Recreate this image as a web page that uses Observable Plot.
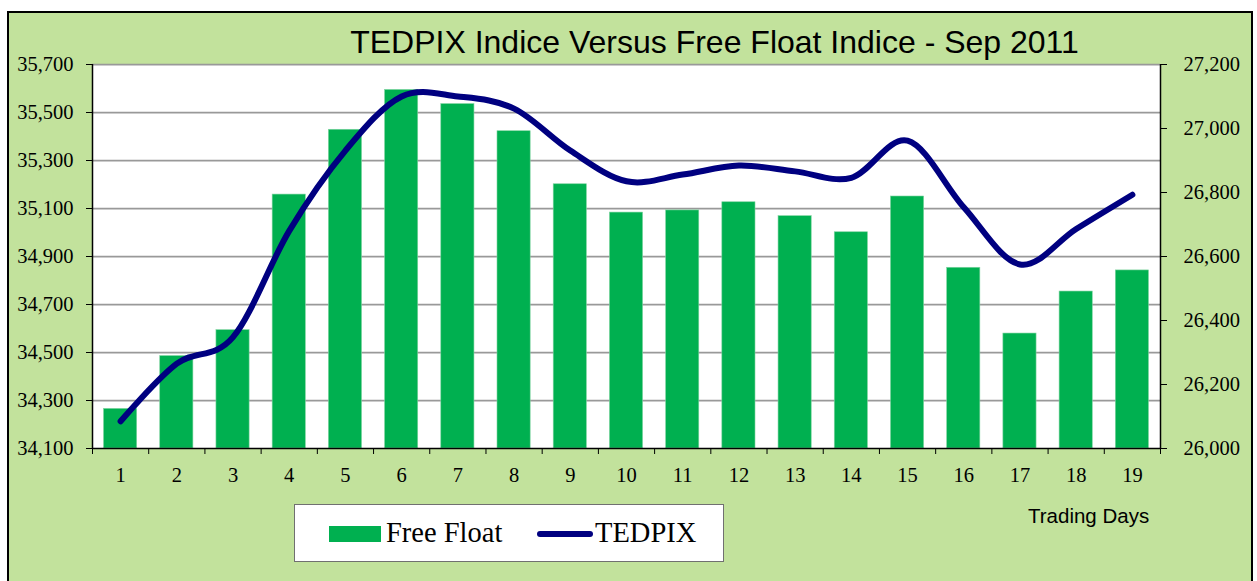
<!DOCTYPE html>
<html>
<head>
<meta charset="utf-8">
<script src="https://cdn.jsdelivr.net/npm/d3@7"></script>
<script src="https://cdn.jsdelivr.net/npm/@observablehq/plot@0.6"></script>
<style>
  html, body { margin: 0; padding: 0; background: #ffffff; }
  #wrap { position: relative; width: 1257px; height: 581px; overflow: hidden; }
  #frame { position: absolute; left: 7px; top: 11px; width: 1242px; height: 600px;
           border-left: 2px solid #000; border-top: 2px solid #000; border-right: 2px solid #000;
           background: #c2e29c; }
  #title { position: absolute; left: 0; width: 1257px; top: 26px; text-align: center;
           padding-left: 172px; box-sizing: border-box;
           font-family: "Liberation Sans", Arial, sans-serif; font-size: 32px; line-height: 33px; color: #000; }
  #chart { position: absolute; left: 0; top: 58px; }
  #chart svg { overflow: visible; }
  #legend { position: absolute; left: 294px; top: 504px; width: 428px; height: 56px;
            background: #fff; border: 1px solid #707070; }
  .lg-item { position: absolute; top: 0; height: 56px; font-family: "Liberation Serif", "Times New Roman", serif;
             font-size: 28.5px; line-height: 56px; color: #000; white-space: nowrap; }
  #sw-bar { position: absolute; left: 34px; top: 21px; width: 52px; height: 16px; background: #00b050; }
  #sw-line { position: absolute; left: 242px; top: 26px; width: 56px; height: 6px; border-radius: 3px; background: #000080; }
  #xlabel { position: absolute; left: 1028px; top: 504px; font-family: "Liberation Sans", Arial, sans-serif;
            font-size: 20.5px; line-height: 24px; color: #000; white-space: nowrap; }
</style>
</head>
<body>
<div id="wrap">
  <div id="frame"></div>
  <div id="title">TEDPIX Indice Versus Free Float Indice - Sep 2011</div>
  <div id="chart"></div>
  <div id="legend">
    <div id="sw-bar"></div>
    <div class="lg-item" style="left:91px">Free Float</div>
    <div id="sw-line"></div>
    <div class="lg-item" style="left:300px">TEDPIX</div>
  </div>
  <div id="xlabel">Trading Days</div>
</div>
<script>
// ---- data ----
const days = [1, 2, 3, 4, 5, 6, 7, 8, 9, 10, 11, 12, 13, 14, 15, 16, 17, 18, 19];
const freeFloat = [34265, 34485, 34593, 35158, 35428, 35594, 35535, 35422, 35201, 35083,
                   35092, 35126, 35068, 35001, 35150, 34853, 34579, 34754, 34842];
const tedpix = [26085, 26265, 26348, 26680, 26931, 27100, 27100, 27062, 26931, 26835,
                26856, 26884, 26866, 26846, 26962, 26754, 26575, 26686, 26793];
const leftTicks = [34100, 34300, 34500, 34700, 34900, 35100, 35300, 35500, 35700];
const rightTicks = [26000, 26200, 26400, 26600, 26800, 27000, 27200];
const seriesNames = ["Free Float", "TEDPIX"];

// ---- mapping of the right-axis domain onto the left y scale ----
const L0 = leftTicks[0], L1 = leftTicks[leftTicks.length - 1];
const R0 = rightTicks[0], R1 = rightTicks[rightTicks.length - 1];
const toLeft = v => L0 + (v - R0) * (L1 - L0) / (R1 - R0);
const fromLeft = v => R0 + (v - L0) * (R1 - R0) / (L1 - L0);

const rows = days.map((d, i) => ({day: d, ff: freeFloat[i], ted: tedpix[i], tedL: toLeft(tedpix[i])}));
const half = 0.295; // half bar width in category units
const boundaries = [0, ...days].map(d => d + 0.5);
const fmt = d3.format(",");

const chart = Plot.plot({
  width: 1257,
  height: 442,
  marginLeft: 92,
  marginRight: 97,
  marginTop: 6,
  marginBottom: 52,
  style: {background: "transparent", fontFamily: "'Liberation Serif', 'Times New Roman', serif", fontSize: "20.5px", color: "#000", overflow: "visible"},
  x: {type: "linear", domain: [0.5, days.length + 0.5]},
  y: {domain: [L0, L1]},
  marks: [
    Plot.frame({fill: "white", stroke: null}),
    Plot.ruleY(leftTicks.slice(1), {stroke: "#999999", strokeWidth: 1.75}),
    Plot.rectY(rows, {x1: d => d.day - half, x2: d => d.day + half, y1: L0, y2: "ff", fill: "#00b050", stroke: "#7fd4a0", strokeWidth: 0.6}),
    Plot.ruleX([0.5, days.length + 0.5], {stroke: "#000", strokeWidth: 1.5}),
    Plot.ruleY([L0], {stroke: "#000", strokeWidth: 1.5}),
    Plot.line(rows, {x: "day", y: "tedL", stroke: "#000080", strokeWidth: 6, curve: "cardinal", strokeLinecap: "round", strokeLinejoin: "round"}),
    Plot.axisY(leftTicks, {anchor: "left", tickSize: 6, tickPadding: 13, tickFormat: fmt, label: null}),
    Plot.axisY(rightTicks.map(toLeft), {anchor: "right", tickSize: 6, tickPadding: 17, tickFormat: d => fmt(Math.round(fromLeft(d))), label: null}),
    Plot.axisX(boundaries, {anchor: "bottom", tickSize: 6, tickFormat: () => "", label: null}),
    Plot.axisX(days, {anchor: "bottom", tickSize: 0, tickPadding: 19, tickFormat: d => String(d), label: null})
  ]
});
document.getElementById("chart").appendChild(chart);
</script>
</body>
</html>
